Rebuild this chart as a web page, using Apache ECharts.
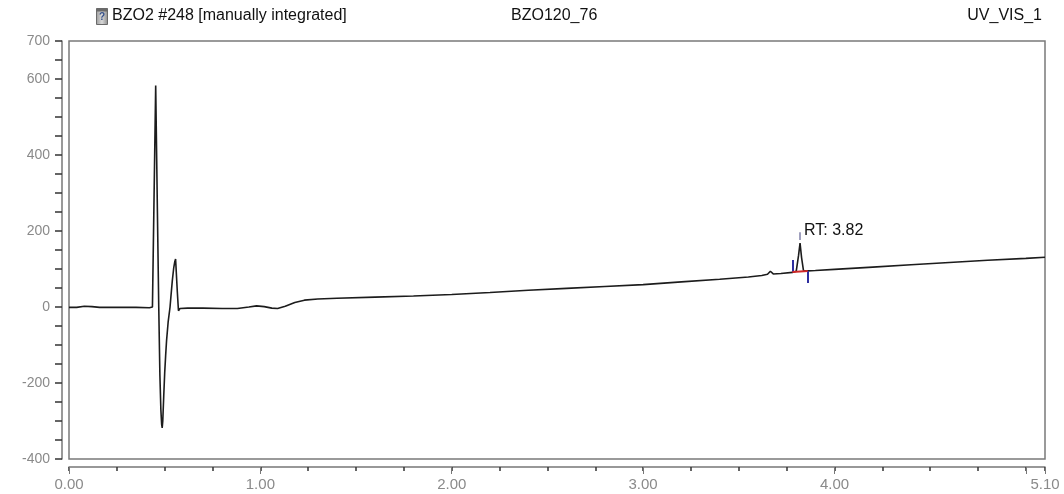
<!DOCTYPE html>
<html>
<head>
<meta charset="utf-8">
<title>BZO2 #248 UV_VIS_1</title>
<script src="https://cdn.jsdelivr.net/npm/echarts@6/dist/echarts.min.js"></script>
<style>
  html, body { margin: 0; padding: 0; background: #fff; }
  #chart { width: 1064px; height: 494px; }
</style>
</head>
<body>
<div id="chart"></div>
<script>
// Retention time (min)
var retentionTime = [
  0.00, 0.04, 0.08, 0.12, 0.16, 0.25, 0.35, 0.42, 0.436, 0.441,
  0.453, 0.462, 0.469, 0.475, 0.480, 0.484, 0.487, 0.490, 0.495, 0.500,
  0.505, 0.510, 0.518, 0.528, 0.533, 0.540, 0.547, 0.553, 0.557, 0.566,
  0.572, 0.580, 0.62, 0.70, 0.80, 0.88, 0.94, 0.98, 1.02, 1.06,
  1.09, 1.13, 1.18, 1.23, 1.30, 1.40, 1.60, 1.80, 2.00, 2.20,
  2.40, 2.60, 2.80, 3.00, 3.20, 3.40, 3.55, 3.62, 3.65, 3.665,
  3.68, 3.72, 3.78, 3.800, 3.812, 3.820, 3.828, 3.838, 3.86, 3.90,
  4.00, 4.20, 4.40, 4.60, 4.80, 5.00, 5.10
];
// Detector signal (mAU)
var detectorSignal = [
  -1, -1, 2, 1, -1, -1, -1, -2, 0, 3,
  583, 250, 0, -180, -270, -308, -318, -300, -235, -174,
  -128, -87, -40, 0, 30, 70, 102, 120, 126, 40,
  -10, -4, -3, -3, -4, -4, 0, 3, 1, -3,
  -4, 2, 12, 18, 21, 23, 26, 29, 33, 38,
  44, 49, 54, 59, 66, 73, 79, 83, 86, 94,
  87, 88, 91, 94, 135, 168, 130, 96, 95, 96,
  99, 105, 111, 117, 123, 128, 131
];

// Integrated peak: retention time, apex, start/end of the integration baseline
var peakRT = 3.82;
var peakApex = [3.82, 168];
var integrationStart = [3.78, 92];
var integrationEnd = [3.86, 95];

// Tick label values
var xLabelValues = [0, 1, 2, 3, 4, 5.1];
var yLabelValues = [-400, -200, 0, 200, 400, 600, 700];

// Header texts
var headerSample = 'BZO2 #248 [manually integrated]';
var headerProgram = 'BZO120_76';
var headerChannel = 'UV_VIS_1';

var seriesData = retentionTime.map(function (t, i) { return [t, detectorSignal[i]]; });

var chart = echarts.init(document.getElementById('chart'), null, { renderer: 'canvas' });

var FONT = "'Liberation Sans', Arial, sans-serif";

function isLabelled(list, v) {
  for (var i = 0; i < list.length; i++) {
    if (Math.abs(list[i] - v) < 1e-6) return true;
  }
  return false;
}

var option = {
  animation: false,
  backgroundColor: '#ffffff',
  grid: {
    left: 69, right: 19, top: 41, bottom: 35,
    show: true, borderColor: '#7a7a7a', borderWidth: 1.5, backgroundColor: 'transparent'
  },
  xAxis: [
    {
      // quarter-minute ticks and the axis line
      type: 'value', min: 0, max: 5.1, interval: 0.25, position: 'bottom', offset: 8,
      axisLine: { show: true, onZero: false, lineStyle: { color: '#777', width: 1.5 } },
      axisTick: { show: true, length: 4, lineStyle: { color: '#333', width: 1.5 } },
      axisLabel: { show: false },
      splitLine: { show: false }
    },
    {
      // whole-minute ticks with labels
      type: 'value', min: 0, max: 5.1, interval: 1, position: 'bottom', offset: 8,
      axisLine: { show: false, onZero: false },
      axisTick: { show: true, length: 7, lineStyle: { color: '#777', width: 1 } },
      axisLabel: {
        show: true, margin: 10, color: '#8a8a8a', fontSize: 15, fontFamily: FONT,
        showMinLabel: true, showMaxLabel: true,
        formatter: function (v) { return isLabelled(xLabelValues, v) ? v.toFixed(2) : ''; }
      },
      splitLine: { show: false }
    }
  ],
  yAxis: {
    type: 'value', min: -400, max: 700, interval: 50, offset: 7,
    axisLine: { show: true, onZero: false, lineStyle: { color: '#777', width: 1.5 } },
    axisTick: { show: true, length: 7, lineStyle: { color: '#333', width: 1.5 } },
    axisLabel: {
      show: true, margin: 12, color: '#8a8a8a', fontSize: 14, fontFamily: FONT,
      showMinLabel: true, showMaxLabel: true,
      formatter: function (v) { return isLabelled(yLabelValues, v) ? String(v) : ''; }
    },
    splitLine: { show: false }
  },
  series: [
    {
      type: 'line',
      xAxisIndex: 0,
      data: seriesData,
      symbol: 'none',
      smooth: false,
      lineStyle: { color: '#1c1c1c', width: 1.6 },
      z: 3,
      markLine: {
        silent: true,
        symbol: ['none', 'none'],
        label: { show: false },
        animation: false,
        data: [
          // start marker (upward blue tick)
          [{ coord: integrationStart, lineStyle: { color: '#2e2ea0', width: 2, type: 'solid' } },
           { coord: [integrationStart[0], integrationStart[1] + 32] }],
          // end marker (downward blue tick)
          [{ coord: integrationEnd, lineStyle: { color: '#2e2ea0', width: 2, type: 'solid' } },
           { coord: [integrationEnd[0], integrationEnd[1] - 32] }],
          // integration baseline
          [{ coord: integrationStart, lineStyle: { color: '#d02828', width: 2, type: 'solid' } },
           { coord: integrationEnd }],
          // apex marker
          [{ coord: [peakApex[0], peakApex[1] + 8], lineStyle: { color: '#8080a8', width: 1.5, type: 'solid' } },
           { coord: [peakApex[0], peakApex[1] + 29] }]
        ]
      },
      markPoint: {
        silent: true,
        symbol: 'circle',
        symbolSize: 0,
        data: [
          {
            coord: [peakRT, peakApex[1] + 33],
            label: {
              show: true, position: 'right', distance: 4,
              color: '#111', fontSize: 16, fontFamily: FONT,
              formatter: 'RT: ' + peakRT.toFixed(2)
            }
          }
        ]
      }
    }
  ],
  graphic: [
    // small chromatogram document icon
    {
      type: 'group', left: 96, top: 8,
      children: [
        { type: 'rect', shape: { x: 0, y: 0, width: 11, height: 16 },
          style: { fill: new echarts.graphic.LinearGradient(0, 0, 1, 0, [
            { offset: 0, color: '#9a9a9a' }, { offset: 0.5, color: '#d8d8d8' }, { offset: 1, color: '#8a8a8a' }
          ]), stroke: '#6a6a6a', lineWidth: 1 } },
        { type: 'rect', shape: { x: 0, y: 0, width: 11, height: 3 },
          style: { fill: '#6a6a6a' } },
        { type: 'text', x: 2.5, y: 4,
          style: { text: '?', fill: '#35508a', font: 'bold 10px ' + FONT } }
      ]
    },
    { type: 'text', left: 112, top: 8,
      style: { text: headerSample, fill: '#111', font: '16px ' + FONT } },
    { type: 'text', left: 511, top: 8,
      style: { text: headerProgram, fill: '#111', font: '16px ' + FONT } },
    { type: 'text', right: 22, top: 8,
      style: { text: headerChannel, fill: '#111', font: '16px ' + FONT } }
  ]
};

chart.setOption(option);
</script>
</body>
</html>
